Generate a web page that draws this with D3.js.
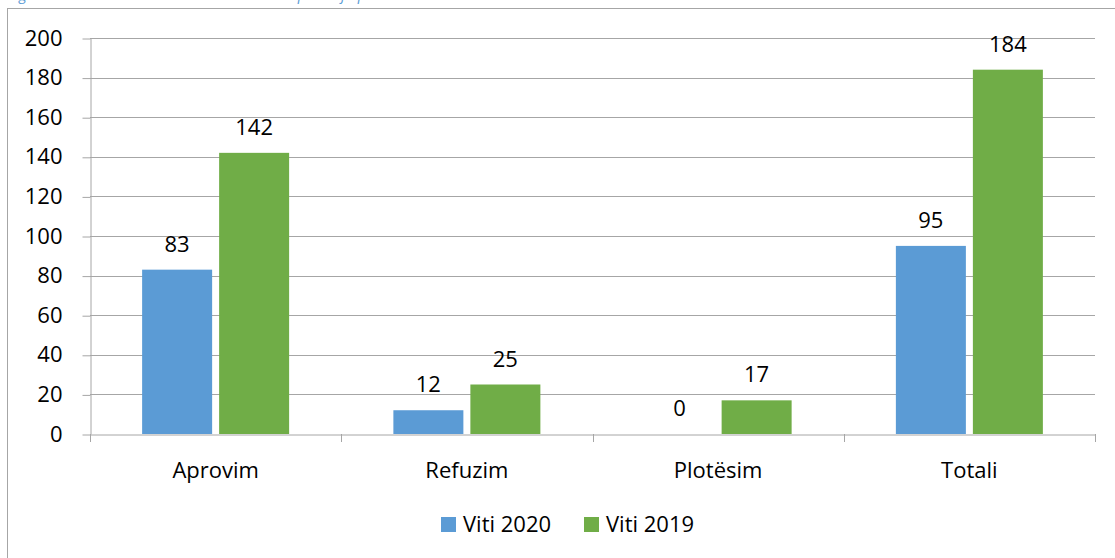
<!DOCTYPE html>
<html>
<head>
<meta charset="utf-8">
<script src="https://cdn.jsdelivr.net/npm/d3@7"></script>
<style>
  html, body { margin: 0; padding: 0; background: #fff; }
  svg { display: block; font-family: "Open Sans", "Noto Sans", sans-serif; }
</style>
</head>
<body>
<svg id="chart" width="1115" height="558"></svg>
<script>
// Decisions by type, 2020 vs 2019
const categories = ["Aprovim", "Refuzim", "Plotësim", "Totali"];
const seriesNames = ["Viti 2020", "Viti 2019"];
const values2020 = [83, 12, 0, 95];
const values2019 = [142, 25, 17, 184];
const yTicks = [0, 20, 40, 60, 80, 100, 120, 140, 160, 180, 200];
const colors = ["#5B9BD5", "#70AD47"];

const FONT = "'Open Sans', 'Noto Sans', sans-serif";
const FS = 22;

const svg = d3.select("#chart");

// caption above the chart frame (runs off the top edge)
svg.append("text")
  .attr("x", 8).attr("y", -0.5)
  .attr("fill", "#5B9BD5")
  .attr("font-style", "italic")
  .attr("font-size", 15)
  .text("Figura 2. Numri i vendimeve të Komisionit sipas llojit për vitin 2020 dhe 2019");

// chart frame
svg.append("rect")
  .attr("x", 7.5).attr("y", 8.5)
  .attr("width", 1120).attr("height", 560)
  .attr("fill", "#fff")
  .attr("stroke", "#A6A6A6").attr("stroke-width", 1);

const plot = { left: 90, right: 1095, top: 38, bottom: 434 };

const x = d3.scaleBand().domain(categories).range([plot.left, plot.right]);
const y = d3.scaleLinear().domain([0, 200]).range([plot.bottom, plot.top]);

// horizontal gridlines
svg.append("g").selectAll("line").data(yTicks.filter(d => d > 0)).join("line")
  .attr("x1", plot.left).attr("x2", plot.right)
  .attr("y1", d => Math.round(y(d)) + 0.5).attr("y2", d => Math.round(y(d)) + 0.5)
  .attr("stroke", "#A6A6A6").attr("stroke-width", 1);

// y axis
const yAxis = svg.append("g")
  .attr("transform", `translate(${plot.left + 0.5},0)`)
  .call(d3.axisLeft(y).tickValues(yTicks).tickSize(8).tickPadding(20).tickSizeOuter(0));
yAxis.select(".domain").attr("stroke", "#A6A6A6");
yAxis.selectAll(".tick line").attr("stroke", "#A6A6A6")
  .attr("transform", "translate(0,0.5)");
yAxis.selectAll(".tick text").attr("font-size", FS).attr("fill", "#000")
  .attr("font-family", FONT);

// x axis
const xAxis = svg.append("g")
  .attr("transform", `translate(0,${plot.bottom + 0.5})`)
  .call(d3.axisBottom(x).tickSize(0).tickPadding(28).tickSizeOuter(0));
xAxis.select(".domain").attr("stroke", "#A6A6A6");
xAxis.selectAll(".tick text").attr("font-size", FS).attr("fill", "#000")
  .attr("font-family", FONT);
// category boundary ticks
svg.append("g").selectAll("line")
  .data(categories.map(c => x(c)).concat([plot.right]))
  .join("line")
  .attr("x1", d => Math.round(d) + 0.5).attr("x2", d => Math.round(d) + 0.5)
  .attr("y1", plot.bottom).attr("y2", plot.bottom + 8)
  .attr("stroke", "#A6A6A6");

// grouped bars
const barW = 70, gap = 7;
const rows = categories.map((c, i) => ({ cat: c, vals: [values2020[i], values2019[i]] }));
const groups = svg.append("g").selectAll("g").data(rows).join("g");
groups.each(function (d) {
  const cx = x(d.cat) + x.bandwidth() / 2;
  const g = d3.select(this);
  d.vals.forEach((v, k) => {
    const bx = k === 0 ? cx - gap / 2 - barW : cx + gap / 2;
    g.append("rect")
      .attr("x", bx).attr("width", barW)
      .attr("y", y(v)).attr("height", y(0) - y(v))
      .attr("fill", colors[k]);
    g.append("text")
      .attr("x", bx + barW / 2).attr("y", y(v) - 18)
      .attr("text-anchor", "middle")
      .attr("font-size", FS).attr("fill", "#000")
      .text(v);
  });
});

// legend
const legend = svg.append("g");
const legendX = [441, 584];
seriesNames.forEach((name, k) => {
  legend.append("rect")
    .attr("x", legendX[k]).attr("y", 517)
    .attr("width", 15).attr("height", 15)
    .attr("fill", colors[k]);
  legend.append("text")
    .attr("x", legendX[k] + 22).attr("y", 532)
    .attr("font-size", FS).attr("fill", "#000")
    .text(name);
});
</script>
</body>
</html>
